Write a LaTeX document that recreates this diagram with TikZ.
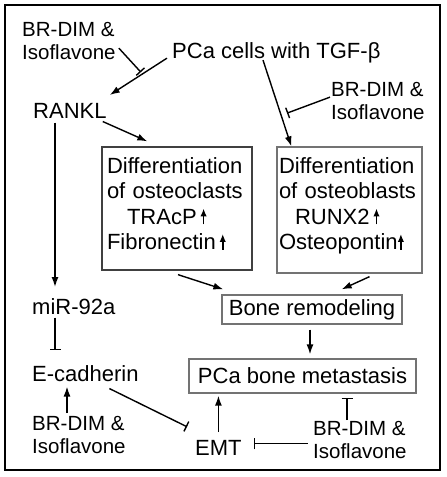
\documentclass[tikz,border=0pt]{standalone}
\usepackage{fontspec}
\setmainfont{Liberation Sans}
\usetikzlibrary{arrows.meta,calc}
\newcommand{\uparr}{\tikz[baseline=0pt]\draw[line width=1.6pt,-{Latex[length=8pt,width=6.5pt]}] (0pt,0pt)--(0pt,16pt);}
\tikzset{
  lab/.style={inner sep=0pt, anchor=north west, align=left, font=\fontsize{22}{25.5}\selectfont},
  brlab/.style={inner sep=0pt, anchor=north west, align=left, font=\fontsize{20.5}{23.5}\selectfont},
  box/.style={draw=black!55, line width=1.3pt, inner sep=0pt, font=\fontsize{22}{25.5}\selectfont},
  arr/.style={line width=1.4pt, -{Latex[length=10pt,width=7pt]}},
  inh/.style={line width=1.4pt, -{Bar[width=11pt,line width=1.4pt]}},
}
\begin{document}
\begin{tikzpicture}[x=1pt,y=-1pt]
\useasboundingbox (0,0) rectangle (447,477);
\draw[line width=1.4pt] (5,5) rectangle (440,470);

% text nodes
\node[brlab] (tlbr) at (22,22) {BR-DIM \&\\Isoflavone};
\node[lab] (ttl) at (172,42) {PCa cells with TGF-β};
\node[lab] (rankl) at (33,103) {RANKL};
\node[brlab] (trbr) at (331,82) {BR-DIM \&\\Isoflavone};
\node[lab] (mir) at (32,298) {miR-92a};
\node[lab] (ecad) at (32,365) {E-cadherin};
\node[brlab] (blbr) at (32,416) {BR-DIM \&\\Isoflavone};
\node[lab] (emt) at (195,440) {EMT};
\node[brlab] (brbr) at (313,421) {BR-DIM \&\\Isoflavone};

% boxes
\node[box, draw=black!75, minimum width=150pt, minimum height=123pt, text width=140pt, align=left] (oc) at (177,208.5)
  {Differentiation\\of osteoclasts\\\hspace*{20pt}TRAcP\,\uparr\\Fibronectin\,\uparr\rule[-9.5pt]{0pt}{9.5pt}};
\node[box, minimum width=145pt, minimum height=126pt, text width=141pt, align=left] (ob) at (349.5,210)
  {Differentiation\\of osteoblasts\\\hspace*{16pt}RUNX2\,\uparr\\Osteopontin\uparr\rule[-12.5pt]{0pt}{12.5pt}};
\node[box, minimum width=180pt, minimum height=29pt] (remodel) at (312,309.5) {Bone remodeling};
\node[box, minimum width=227pt, minimum height=34pt] (meta) at (302.5,376) {PCa bone metastasis};

% connectors
\draw[arr] ($(ttl.base west)+(-5,0)$) -- ($(rankl.north east)+(3,-8)$);
\draw[inh] ($(tlbr.east)+(3,7)$) -- ($(tlbr.east)+(25,31)$);
\draw[arr] ($(rankl.south east)+(-4,3)$) -- ($(oc.north west)+(46,-5)$);
\draw[arr] ($(ttl.base west)+(91,2)$) -- ($(ob.north west)+(15,0)$);
\draw[inh] ($(trbr.west)+(-1,-4)$) -- ($(trbr.west)+(-44,12)$);
\draw[arr] ($(oc.south)+(1,4)$) -- ($(remodel.north west)+(2,-5)$);
\draw[arr] ($(ob.south)+(20,3)$) -- ($(remodel.north east)+(-61,-5)$);
\draw[arr] ($(remodel.south)+(-2,5)$) -- ($(meta.north)+(7.5,-4)$);
\draw[arr] ($(rankl.south west)+(22,4)$) -- ($(mir.north west)+(23,-11)$);
\draw[inh] ($(mir.south west)+(23,3)$) -- ($(ecad.north west)+(23,-15)$);
\draw[arr] ($(blbr.north west)+(35,-3)$) -- ($(ecad.south west)+(35,5)$);
\draw[inh] ($(ecad.south)+(24,7)$) -- ($(emt.west)+(-8,-21)$);
\draw[arr] ($(emt.north)+(0,-8)$) -- ($(emt.north |- meta.south)+(0,2)$);
\draw[inh] ($(emt.east)+(66,-4)$) -- ($(emt.east)+(12,-4)$);
\draw[inh] ($(brbr.north west)+(34,-1)$) -- ($(brbr.north west |- meta.south)+(34,4)$);
\end{tikzpicture}
\end{document}
